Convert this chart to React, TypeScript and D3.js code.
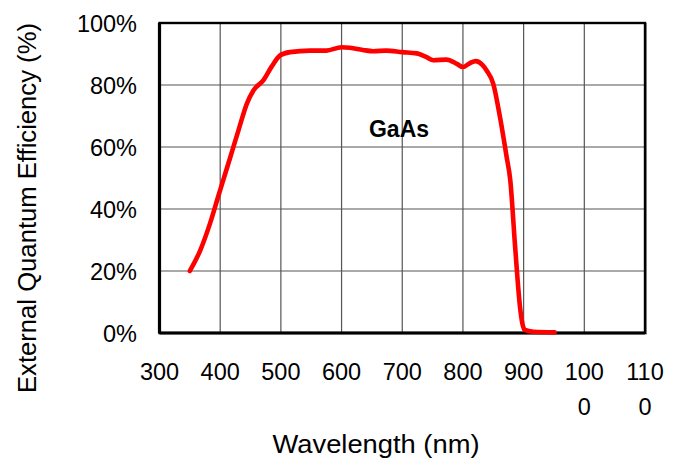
import React from 'react';
import * as d3 from 'd3';

const W = 681;
const H = 461;
const FONT = '"Liberation Sans", Arial, sans-serif';

// wavelength (nm) and EQE
const wavelengths = [350, 367, 383, 397, 408, 416, 430, 444, 455, 471, 485, 499, 515, 548, 575, 600, 614, 635, 652, 674, 700, 724, 740, 751, 773, 790, 800, 811, 821, 832, 839, 850, 861, 872, 878, 886, 894, 898, 902, 916, 951];
const eqe = [20, 26.6, 35.2, 44.2, 51.2, 56.3, 65.3, 74, 78.3, 81.5, 86, 89.6, 90.6, 91.1, 91.1, 92.2, 92, 91.3, 90.9, 91.1, 90.6, 90.2, 89, 88, 88.2, 86.8, 85.8, 87, 87.7, 86.5, 84.7, 80.4, 69.7, 56.8, 49.3, 27.8, 8.5, 3, 1, 0.4, 0.2];

const xTicks = [300, 400, 500, 600, 700, 800, 900, 1000, 1100];
const xTickLabels = [['300'], ['400'], ['500'], ['600'], ['700'], ['800'], ['900'], ['100', '0'], ['110', '0']];
const yTicks = [0, 20, 40, 60, 80, 100];
const yTickLabels = ['0%', '20%', '40%', '60%', '80%', '100%'];

const seriesLabel = 'GaAs';
const xTitle = 'Wavelength (nm)';
const yTitle = 'External Quantum Efficiency (%)';

const left = 159.5, right = 645, top = 23, bottom = 333;

const App = () => {
  const x = d3.scaleLinear().domain([300, 1100]).range([left, right]);
  const y = d3.scaleLinear().domain([0, 100]).range([bottom, top]);

  const points: [number, number][] = wavelengths.map((w, i) => [w, eqe[i]]);
  const line = d3.line<[number, number]>()
    .x(d => x(d[0]))
    .y(d => y(d[1]))
    .curve(d3.curveMonotoneX);

  return (
    <svg width={W} height={H} style={{ position: 'absolute', left: 0, top: 0, background: '#fff' }}>
      {/* grid */}
      <g stroke="#555" strokeWidth={1.2}>
        {xTicks.slice(1, -1).map(t => (
          <line key={'gx' + t} x1={x(t)} x2={x(t)} y1={top} y2={bottom} />
        ))}
        {yTicks.slice(1, -1).map(t => (
          <line key={'gy' + t} x1={left} x2={right} y1={y(t)} y2={y(t)} />
        ))}
      </g>

      {/* frame */}
      <line x1={right + 1.5} x2={right + 1.5} y1={top} y2={bottom + 1.5} stroke="#999" strokeWidth={1} />
      <rect x={left} y={top} width={right - left} height={bottom - top} fill="none" stroke="#000" strokeWidth={2.4} />
      <line x1={left} x2={left} y1={top} y2={bottom} stroke="#000" strokeWidth={3.2} />
      <line x1={left} x2={right} y1={bottom} y2={bottom} stroke="#000" strokeWidth={3.2} />

      {/* curve */}
      <path d={line(points) || ''} fill="none" stroke="#ff0000" strokeWidth={4.6} strokeLinecap="round" strokeLinejoin="round" />

      <text x={399} y={137} textAnchor="middle" fontFamily={FONT} fontWeight="bold" fontSize={23}>{seriesLabel}</text>

      {/* y ticks */}
      {yTicks.map((t, i) => (
        <text key={'yl' + t} x={137} y={y(t) + 8.5} textAnchor="end" fontFamily={FONT} fontSize={23.5}>{yTickLabels[i]}</text>
      ))}

      {/* x ticks */}
      {xTicks.map((t, i) => (
        <text key={'xl' + t} x={x(t)} y={380} textAnchor="middle" fontFamily={FONT} fontSize={23.5}>
          {xTickLabels[i].map((s, j) => (
            <tspan key={j} x={x(t)} dy={j === 0 ? 0 : 35}>{s}</tspan>
          ))}
        </text>
      ))}

      <text x={376} y={453} textAnchor="middle" fontFamily={FONT} fontSize={26} textLength={207} lengthAdjust="spacingAndGlyphs">{xTitle}</text>

      <text transform="translate(36,208) rotate(-90)" textAnchor="middle" fontFamily={FONT} fontSize={26} textLength={370} lengthAdjust="spacingAndGlyphs">{yTitle}</text>
    </svg>
  );
};

export default App;
